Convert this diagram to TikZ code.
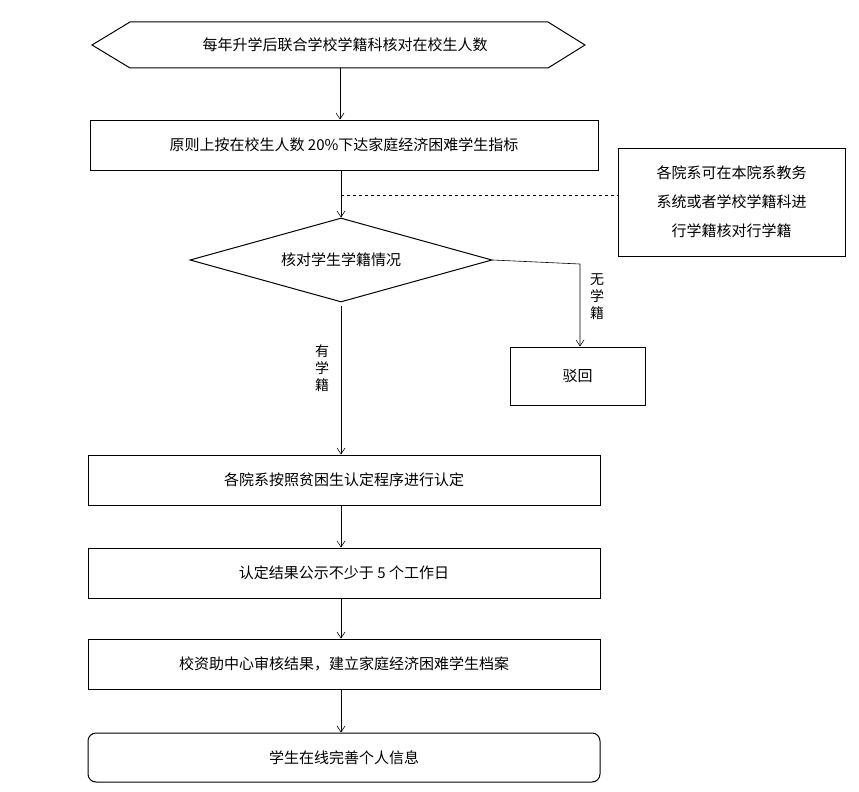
\documentclass[tikz,border=0pt]{standalone}
\usepackage{fontspec}
\setmainfont{Noto Sans CJK SC}
\usetikzlibrary{shapes.geometric,arrows.meta}
\begin{document}
\begin{tikzpicture}[x=1pt,y=-1pt,
 box/.style={draw,line width=1pt,minimum width=510pt,minimum height=50pt,font=\fontsize{15}{17}\selectfont},
 arr/.style={-{Straight Barb[length=6pt,width=8pt]},line width=0.6pt},
 lbl/.style={font=\fontsize{15}{17}\selectfont}]
\useasboundingbox (0,0) rectangle (859,792);
\draw[line width=1pt] (92,45) -- (130,22) -- (548,22) -- (585,45) -- (548,68) -- (130,68) -- cycle;
\node[lbl] (a) at (345,45) {每年升学后联合学校学籍科核对在校生人数};
\coordinate (ab) at (340,68);
\node[box,minimum width=508pt] (b) at (344,145) {原则上按在校生人数 20\%下达家庭经济困难学生指标};
\node[draw,line width=1pt,minimum width=227pt,minimum height=108pt,align=center,font=\fontsize{15}{29}\selectfont] (n) at (731.5,202) {各院系可在本院系教务\\系统或者学校学籍科进\\行学籍核对行学籍};
\node[draw,diamond,line width=1pt,aspect=3.6,minimum width=302pt,minimum height=84pt,inner sep=0pt] (d) at (341,260) {};
\node[lbl] at (341,260) {核对学生学籍情况};
\node[draw,line width=1pt,minimum width=135pt,minimum height=58pt,font=\fontsize{15}{17}\selectfont] (r) at (577.5,376) {驳回};
\node[box,minimum width=512pt] (c) at (344,480) {各院系按照贫困生认定程序进行认定};
\node[box,minimum width=512pt] (e) at (344,573) {认定结果公示不少于 5 个工作日};
\node[box,minimum width=512pt] (f) at (344,664) {校资助中心审核结果，建立家庭经济困难学生档案};
\node[box,minimum width=512pt,rounded corners=8pt,minimum height=49pt] (g) at (344,757.5) {学生在线完善个人信息};
\draw[arr] (ab) -- (b.north -| ab);
\draw[arr] (b.south -| d.north) -- (d.north);
\draw[dashed,line width=0.5pt] (341,195) -- (n.west |- 0,195);
\draw[arr] (d.east) -- (580,264) -- (r.north -| 580,0);
\node[align=center,font=\fontsize{14}{17}\selectfont] at (597,297) {无\\学\\籍};
\draw[arr] (341,306) -- (c.north -| 341,0);
\node[align=center,font=\fontsize{14}{17}\selectfont] at (322,368) {有\\学\\籍};
\draw[arr] (c.south -| 341,0) -- (e.north -| 341,0);
\draw[arr] (e.south -| 341,0) -- (f.north -| 341,0);
\draw[arr] (f.south -| 341,0) -- (g.north -| 341,0);
\end{tikzpicture}
\end{document}
